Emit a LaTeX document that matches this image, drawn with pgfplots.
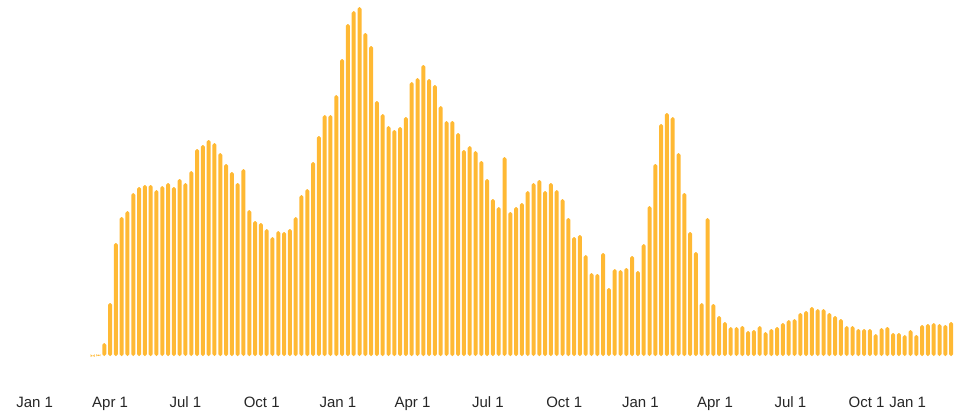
\documentclass[border=0pt]{standalone}
\usepackage{fontspec}
\setmainfont{Liberation Sans}
\usepackage{pgfplots}
\pgfplotsset{compat=1.18}
\definecolor{barcol}{RGB}{255,185,52}
\begin{document}
\begin{tikzpicture}
\useasboundingbox (0,-415pt) rectangle (955pt,0);
\begin{axis}[
    at={(0,0)}, anchor=north west,
    scale only axis,
    width=955pt, height=356pt,
    xmin=-15.98, xmax=148.67,
    ymin=0, ymax=356,
    axis line style={draw=none},
    major tick length=0pt,
    ytick=\empty,
    xtick={-10,3,16,29.14,42.29,55.14,68.14,81.29,94.43,107.29,120.29,133.43,140.5},
    xticklabels={Jan 1,Apr 1,Jul 1,Oct 1,Jan 1,Apr 1,Jul 1,Oct 1,Jan 1,Apr 1,Jul 1,Oct 1,Jan 1},
    xticklabel style={anchor=base, yshift=-51pt, font=\fontsize{15}{18}\selectfont, text=black!85},
    ybar, bar width=4pt,
]
\addplot[fill=barcol, draw=none, rounded corners=1.8pt] coordinates {
(0,0.5) (1,1.5) (2,13) (3,53) (4,113) (5,139) (6,145) (7,163) (8,169) (9,171)
(10,171) (11,166) (12,170) (13,173) (14,169) (15,177) (16,173) (17,185) (18,207) (19,211)
(20,216) (21,213) (22,203) (23,192) (24,184) (25,173) (26,187) (27,146) (28,135) (29,133)
(30,127) (31,119) (32,125) (33,124) (34,127) (35,139) (36,161) (37,167) (38,194) (39,220)
(40,241) (41,241) (42,261) (43,297) (44,332) (45,345) (46,349) (47,323) (48,310) (49,255)
(50,242) (51,230) (52,226) (53,229) (54,239) (55,274) (56,278) (57,291) (58,277) (59,271)
(60,250) (61,235) (62,235) (63,223) (64,206) (65,210) (66,205) (67,195) (68,177) (69,157)
(70,149) (71,199) (72,144) (73,149) (74,153) (75,165) (76,173) (77,176) (78,165) (79,173)
(80,166) (81,157) (82,138) (83,119) (84,121) (85,101) (86,83) (87,82) (88,103) (89,68)
(90,87) (91,86) (92,88) (93,100) (94,85) (95,112) (96,150) (97,192) (98,232) (99,243)
(100,239) (101,203) (102,163) (103,124) (104,104) (105,53) (106,138) (107,52) (108,40) (109,34)
(110,29) (111,29) (112,30) (113,25) (114,26) (115,30) (116,24) (117,27) (118,29) (119,33)
(120,36) (121,37) (122,43) (123,45) (124,49) (125,47) (126,47) (127,43) (128,40) (129,37)
(130,30) (131,30) (132,27) (133,27) (134,27) (135,22) (136,28) (137,29) (138,23) (139,23)
(140,21) (141,26) (142,21) (143,31) (144,32) (145,33) (146,32) (147,31) (148,34)
};
\end{axis}
\end{tikzpicture}
\end{document}
